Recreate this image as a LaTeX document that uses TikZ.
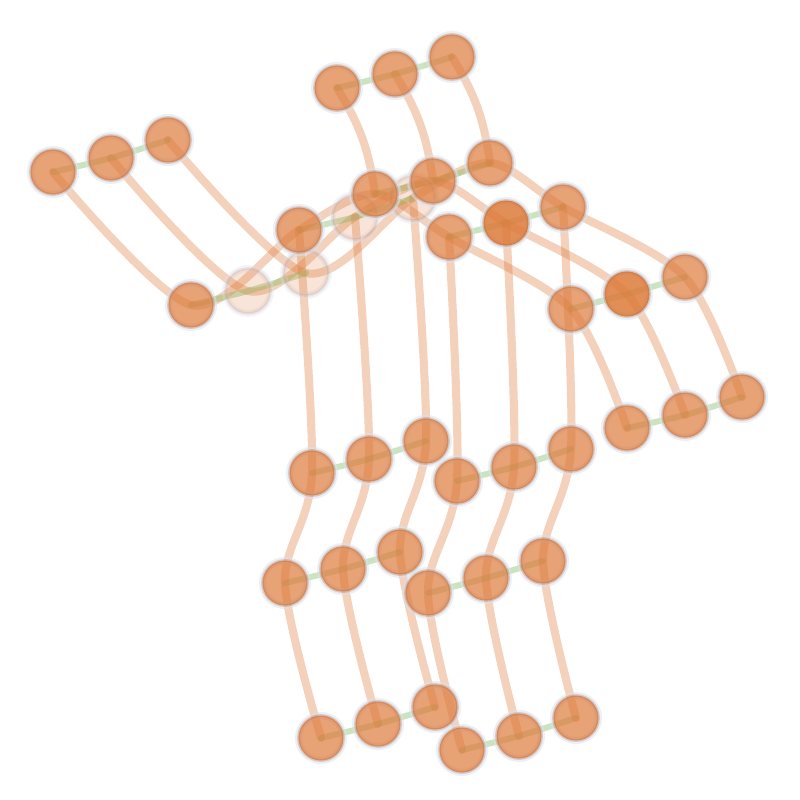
\documentclass[tikz,border=0pt]{standalone}
\usepackage{tikz}
\usepackage{xcolor}
\usetikzlibrary{backgrounds}

\definecolor{ballorange}{HTML}{DD7A3A}
\definecolor{rimorange}{HTML}{B5622C}
\definecolor{haloblue}{HTML}{D8E3F4}
\definecolor{runggreen}{HTML}{7DBA5E}

\begin{document}
\begin{tikzpicture}[x=0.01cm, y=0.01cm,
    ball/.style={circle, minimum size=0.45cm, inner sep=0pt,
        fill=ballorange, fill opacity=0.7,
        draw=rimorange, draw opacity=0.28, line width=0.8pt,
        preaction={draw=haloblue, draw opacity=0.55, line width=2pt}},
    ghost/.style={circle, minimum size=0.45cm, inner sep=0pt,
        fill=ballorange, fill opacity=0.2,
        draw=rimorange, draw opacity=0.12, line width=0.8pt,
        preaction={draw=haloblue, draw opacity=0.35, line width=2pt}},
    deep/.style={ball, fill opacity=0.85},
    strand/.style={draw=ballorange, draw opacity=0.35, line width=2.3pt, line cap=round},
    rung/.style={draw=runggreen, draw opacity=0.4, line width=1.7pt, line cap=round}]
    \useasboundingbox (0,0) rectangle (800,-800);

    % Faded balls behind
    \node[ghost] (el2) at (248,-291) {};
    \node[ghost] (el3) at (306,-273) {};
    \node[ghost] (sl2) at (355,-217) {};
    \node[ghost] (sl3) at (413,-198) {};

    % Left hand and elbow
    \node[ball] (hl1) at (53,-172) {};
    \node[ball] (hl2) at (111,-158) {};
    \node[ball] (hl3) at (168,-140) {};
    \node[ball] (el1) at (191,-305) {};

    % Head and neck
    \node[ball] (hd1) at (337,-88) {};
    \node[ball] (hd2) at (395,-74) {};
    \node[ball] (hd3) at (452,-57) {};
    \node[ball] (sl1) at (299,-230) {};
    \node[ball] (nk1) at (375,-194) {};
    \node[ball] (nk2) at (433,-181) {};
    \node[ball] (nk3) at (490,-163) {};

    % Right shoulder, elbow, hand
    \node[ball] (sr1) at (449,-237) {};
    \node[deep] (sr2) at (506,-223) {};
    \node[ball] (sr3) at (563,-207) {};
    \node[ball] (er1) at (571,-309) {};
    \node[deep] (er2) at (627,-294) {};
    \node[ball] (er3) at (685,-277) {};
    \node[ball] (hr1) at (627,-428) {};
    \node[ball] (hr2) at (685,-415) {};
    \node[ball] (hr3) at (742,-397) {};

    % Left leg
    \node[ball] (ul1) at (312,-473) {};
    \node[ball] (ul2) at (369,-459) {};
    \node[ball] (ul3) at (426,-441) {};
    \node[ball] (ll1) at (285,-583) {};
    \node[ball] (ll2) at (343,-569) {};
    \node[ball] (ll3) at (400,-552) {};
    \node[ball] (fl1) at (321,-738) {};
    \node[ball] (fl2) at (378,-724) {};
    \node[ball] (fl3) at (435,-707) {};

    % Right leg
    \node[ball] (ur1) at (457,-481) {};
    \node[ball] (ur2) at (514,-467) {};
    \node[ball] (ur3) at (571,-449) {};
    \node[ball] (lr1) at (428,-593) {};
    \node[ball] (lr2) at (486,-578) {};
    \node[ball] (lr3) at (543,-561) {};
    \node[ball] (fr1) at (462,-750) {};
    \node[ball] (fr2) at (519,-736) {};
    \node[ball] (fr3) at (576,-718) {};

    \begin{pgfonlayer}{background}
        % Strands from left hand over the shoulders to right hand
        \draw[strand] plot[smooth] coordinates {(hl1.center) (el1.center) (sl1.center) (nk1.center) (sr1.center) (er1.center) (hr1.center)};
        \draw[strand] plot[smooth] coordinates {(hl2.center) (el2.center) (sl2.center) (nk2.center) (sr2.center) (er2.center) (hr2.center)};
        \draw[strand] plot[smooth] coordinates {(hl3.center) (el3.center) (sl3.center) (nk3.center) (sr3.center) (er3.center) (hr3.center)};

        % Head down to neck
        \draw[strand] (hd1.center) to[bend left=12] (nk1.center);
        \draw[strand] (hd2.center) to[bend left=12] (nk2.center);
        \draw[strand] (hd3.center) to[bend left=12] (nk3.center);

        % Legs
        \draw[strand] plot[smooth] coordinates {(sl1.center) (ul1.center) (ll1.center) (fl1.center)};
        \draw[strand] plot[smooth] coordinates {(sl2.center) (ul2.center) (ll2.center) (fl2.center)};
        \draw[strand] plot[smooth] coordinates {(sl3.center) (ul3.center) (ll3.center) (fl3.center)};
        \draw[strand] plot[smooth] coordinates {(sr1.center) (ur1.center) (lr1.center) (fr1.center)};
        \draw[strand] plot[smooth] coordinates {(sr2.center) (ur2.center) (lr2.center) (fr2.center)};
        \draw[strand] plot[smooth] coordinates {(sr3.center) (ur3.center) (lr3.center) (fr3.center)};

        % Green rungs across each triple
        \draw[rung] plot[smooth] coordinates {(hl1.center) (hl2.center) (hl3.center)};
        \draw[rung] plot[smooth] coordinates {(el1.center) (el2.center) (el3.center)};
        \draw[rung] plot[smooth] coordinates {(hd1.center) (hd2.center) (hd3.center)};
        \draw[rung] plot[smooth] coordinates {(sl1.center) (sl2.center) (sl3.center)};
        \draw[rung] plot[smooth] coordinates {(nk1.center) (nk2.center) (nk3.center)};
        \draw[rung] plot[smooth] coordinates {(sr1.center) (sr2.center) (sr3.center)};
        \draw[rung] plot[smooth] coordinates {(er1.center) (er2.center) (er3.center)};
        \draw[rung] plot[smooth] coordinates {(hr1.center) (hr2.center) (hr3.center)};
        \draw[rung] plot[smooth] coordinates {(ul1.center) (ul2.center) (ul3.center)};
        \draw[rung] plot[smooth] coordinates {(ll1.center) (ll2.center) (ll3.center)};
        \draw[rung] plot[smooth] coordinates {(fl1.center) (fl2.center) (fl3.center)};
        \draw[rung] plot[smooth] coordinates {(ur1.center) (ur2.center) (ur3.center)};
        \draw[rung] plot[smooth] coordinates {(lr1.center) (lr2.center) (lr3.center)};
        \draw[rung] plot[smooth] coordinates {(fr1.center) (fr2.center) (fr3.center)};
    \end{pgfonlayer}
\end{tikzpicture}
\end{document}
